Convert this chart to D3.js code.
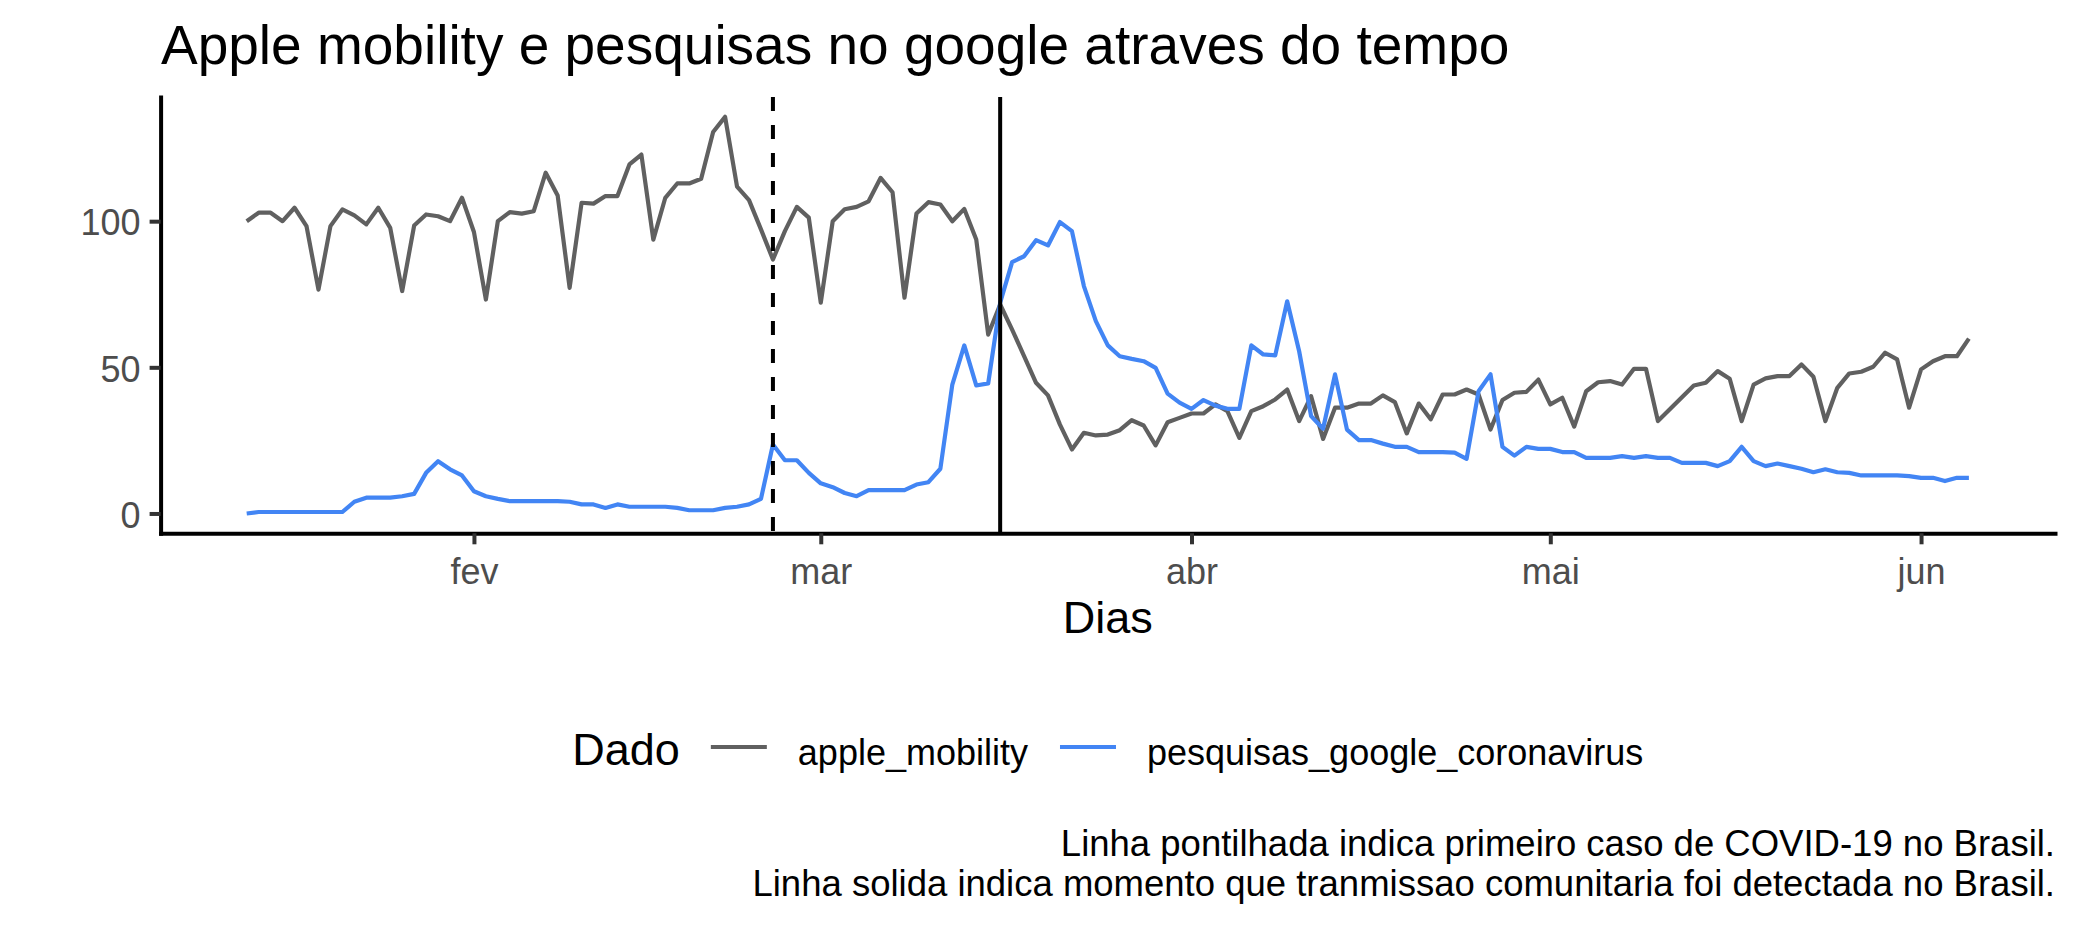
<!DOCTYPE html>
<html>
<head>
<meta charset="utf-8">
<script src="https://cdn.jsdelivr.net/npm/d3@7"></script>
<style>
  body { margin: 0; background: #fff; }
  text { font-family: "Liberation Sans", Arial, sans-serif; }
</style>
</head>
<body>
<div id="vis"></div>
<script>

////////// data //////////

// one value per day, starting at firstDay
var firstDay = "2020-01-13";

// apple mobility index (no data on 2020-05-11 and 2020-05-12)
var appleMobility = [
  100, 102.9, 102.9, 100, 104.6, 98.3, 76.6, 98.3, 104, 102,
  98.9, 104.6, 97.7, 76.1, 98.5, 102.3, 101.7, 100, 108, 96.3,
  73.2, 100, 103.1, 102.6, 103.4, 116.6, 108.8, 77.2, 106.3, 106,
  108.6, 108.6, 119.4, 122.8, 93.7, 108, 112.9, 112.9, 114.5, 130.5,
  135.7, 111.8, 107.2, 97.2, 86.9, 96.6, 104.9, 101.2, 72.1, 100,
  104.1, 104.9, 106.8, 114.8, 109.9, 73.8, 102.6, 106.5, 105.7, 100,
  104.2, 93.7, 61.2, 71.5, 62.9, 53.8, 44.7, 40.4, 30.4, 21.9,
  27.6, 26.7, 27, 28.5, 31.9, 30.1, 23.3, 31.2, 32.7, 34.2,
  34.2, 37.3, 35, 25.9, 35, 36.7, 39, 42.4, 31.6, 40.1,
  25.5, 36.2, 36.2, 37.6, 37.6, 40.4, 38.1, 27.4, 37.6, 32.2,
  40.7, 40.7, 42.4, 40.7, 28.7, 38.8, 41.3, 41.6, 45.8, 37.3,
  39.6, 29.7, 41.8, 44.9, 45.3, 44.1, 49.5, 49.5, 31.6, null,
  null, 43.8, 44.7, 48.7, 46.1, 31.6, 44.1, 46.2, 47, 47,
  51, 46.8, 31.6, 43, 47.9, 48.5, 50.2, 55, 52.7, 36.2,
  49.3, 52.1, 53.8, 53.8, 59.8
];

// google searches for "coronavirus"
var googleSearches = [
  0, 0.5, 0.5, 0.5, 0.5, 0.5, 0.5, 0.5, 0.5, 4,
  5.4, 5.4, 5.4, 5.9, 6.7, 13.9, 17.9, 15.1, 13, 7.6,
  5.9, 5, 4.2, 4.2, 4.2, 4.2, 4.2, 4, 3.1, 3.1,
  1.9, 3.1, 2.3, 2.3, 2.3, 2.3, 1.9, 1.1, 1.1, 1.1,
  1.9, 2.3, 3.1, 5, 23.6, 18.2, 18.2, 13.9, 10.3, 9,
  7, 5.9, 8, 8, 8, 8, 9.9, 10.7, 15.3, 44.1,
  57.5, 43.8, 44.5, 72.1, 86, 88, 93.5, 91.7, 99.7, 96.6,
  77.8, 65.8, 57.5, 53.8, 52.9, 52.1, 49.8, 41, 37.9, 35.8,
  38.8, 36.9, 35.8, 35.8, 57.5, 54.4, 54.1, 72.6, 55.5, 33.3,
  29, 47.6, 28.7, 25.1, 25.1, 23.9, 22.8, 22.8, 21, 21,
  21, 20.8, 18.7, 41.8, 47.6, 22.8, 19.8, 22.8, 22.1, 22.1,
  21, 21, 19, 19, 19, 19.6, 19, 19.6, 19, 19,
  17.3, 17.3, 17.3, 16.2, 17.9, 22.8, 17.9, 16.2, 17.1, 16.2,
  15.3, 14.1, 15.1, 14.1, 13.9, 13, 13, 13, 13, 12.8,
  12.2, 12.2, 11.1, 12.2, 12.2
];

var seriesNames = ["apple_mobility", "pesquisas_google_coronavirus"];
var seriesColors = ["#606060", "#4285f4"];

var monthTicks = ["2020-02-01", "2020-03-01", "2020-04-01", "2020-05-01", "2020-06-01"];
var monthLabels = ["fev", "mar", "abr", "mai", "jun"];
var yTicks = [0, 50, 100];

var firstCaseDay = "2020-02-26";      // dashed line
var communityDay = "2020-03-16";      // solid line

var titleText = "Apple mobility e pesquisas no google atraves do tempo";
var xTitle = "Dias";
var legendTitle = "Dado";
var captionLines = [
  "Linha pontilhada indica primeiro caso de COVID-19 no Brasil.",
  "Linha solida indica momento que tranmissao comunitaria foi detectada no Brasil."
];


////////// set up //////////

var W = 2078, H = 928;
var margin = {top: 97, right: 23, bottom: 394.7, left: 160.6},
    width = W - margin.left - margin.right,
    height = H - margin.top - margin.bottom;

var parseDay = d3.utcParse("%Y-%m-%d");
var start = parseDay(firstDay);

function toPoints(values) {
  return values
    .map(function(v, i) { return {date: d3.utcDay.offset(start, i), value: v}; })
    .filter(function(d) { return d.value != null; });
}

var series = [toPoints(appleMobility), toPoints(googleSearches)];

// ggplot style 5% expansion on both axes
var allPoints = series[0].concat(series[1]);
var tExt = d3.extent(allPoints, function(d) { return d.date; });
var tPad = (tExt[1] - tExt[0]) * 0.05;
var vExt = d3.extent(allPoints, function(d) { return d.value; });
var vPad = (vExt[1] - vExt[0]) * 0.05;

var x = d3.scaleUtc()
    .domain([new Date(+tExt[0] - tPad), new Date(+tExt[1] + tPad)])
    .range([0, width]);

var y = d3.scaleLinear()
    .domain([vExt[0] - vPad, vExt[1] + vPad])
    .range([height, 0]);

var svg = d3.select("#vis")
  .append("svg")
    .attr("width", W)
    .attr("height", H)
    .style("display", "block");

svg.append("rect")
    .attr("width", W)
    .attr("height", H)
    .attr("fill", "#fff");

var plot = svg.append("g")
    .attr("transform", "translate(" + margin.left + "," + margin.top + ")");


////////// lines //////////

var line = d3.line()
    .x(function(d) { return x(d.date); })
    .y(function(d) { return y(d.value); });

plot.selectAll(".series")
    .data(series)
    .enter()
    .append("path")
    .attr("class", "series")
    .attr("d", line)
    .attr("fill", "none")
    .attr("stroke", function(d, i) { return seriesColors[i]; })
    .attr("stroke-width", 4.2)
    .attr("stroke-linejoin", "round");

// event markers
plot.append("line")
    .attr("x1", x(parseDay(firstCaseDay)))
    .attr("x2", x(parseDay(firstCaseDay)))
    .attr("y1", 0)
    .attr("y2", height)
    .attr("stroke", "#000")
    .attr("stroke-width", 4)
    .attr("stroke-dasharray", "14,14");

plot.append("line")
    .attr("x1", x(parseDay(communityDay)))
    .attr("x2", x(parseDay(communityDay)))
    .attr("y1", 0)
    .attr("y2", height)
    .attr("stroke", "#000")
    .attr("stroke-width", 4);


////////// axes //////////

var xAxis = plot.append("g")
    .attr("transform", "translate(0," + height + ")")
    .call(d3.axisBottom(x)
      .tickValues(monthTicks.map(parseDay))
      .tickFormat(function(d, i) { return monthLabels[i]; })
      .tickSize(11)
      .tickSizeOuter(0)
      .tickPadding(9));

var yAxis = plot.append("g")
    .call(d3.axisLeft(y)
      .tickValues(yTicks)
      .tickSize(11)
      .tickSizeOuter(0)
      .tickPadding(9));

[xAxis, yAxis].forEach(function(g) {
  g.select(".domain")
      .attr("stroke", "#000")
      .attr("stroke-width", 4)
      .attr("stroke-linecap", "square");
  g.selectAll(".tick line")
      .attr("stroke", "#333")
      .attr("stroke-width", 4);
  g.selectAll(".tick text")
      .attr("fill", "#4d4d4d")
      .style("font-size", "36px")
      .style("font-family", "'Liberation Sans', Arial, sans-serif");
});

xAxis.selectAll(".tick text").attr("dy", "0.85em");
yAxis.selectAll(".tick text").attr("dy", "0.38em");

plot.append("text")
    .attr("x", width / 2)
    .attr("y", 633 - margin.top)
    .attr("text-anchor", "middle")
    .style("font-size", "45px")
    .text(xTitle);


////////// title & caption //////////

svg.append("text")
    .attr("x", 161)
    .attr("y", 64)
    .style("font-size", "55px")
    .text(titleText);

svg.selectAll(".caption")
    .data(captionLines)
    .enter()
    .append("text")
    .attr("class", "caption")
    .attr("x", margin.left + width)
    .attr("y", function(d, i) { return 856 + i * 40; })
    .attr("text-anchor", "end")
    .style("font-size", "36.5px")
    .text(function(d) { return d; });


////////// legend //////////

var legend = svg.append("g");
var lx = 0, legendY = 747;

var lt = legend.append("text")
    .attr("x", lx)
    .attr("y", legendY + 18)
    .style("font-size", "45px")
    .text(legendTitle);
lx += lt.node().getComputedTextLength() + 31;

seriesNames.forEach(function(name, i) {
  legend.append("line")
      .attr("x1", lx)
      .attr("x2", lx + 56)
      .attr("y1", legendY)
      .attr("y2", legendY)
      .attr("stroke", seriesColors[i])
      .attr("stroke-width", 4.2);
  lx += 56 + 31;
  var t = legend.append("text")
      .attr("x", lx)
      .attr("y", legendY + 18)
      .style("font-size", "36px")
      .text(name);
  lx += t.node().getComputedTextLength() + (i < seriesNames.length - 1 ? 32 : 0);
});

legend.attr("transform", "translate(" + (margin.left + width / 2 - lx / 2) + ",0)");

</script>
</body>
</html>
